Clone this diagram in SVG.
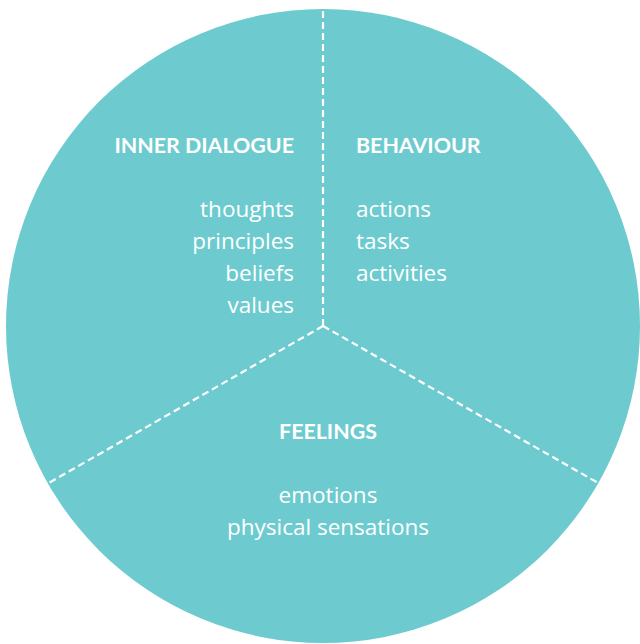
<svg xmlns="http://www.w3.org/2000/svg" width="640" height="644" viewBox="0 0 640 644">
<style>
.bg{fill:#6dcbd0}
.div{stroke:#ffffff;stroke-width:2.2;stroke-dasharray:7 4;fill:none}
.h{font-family:"Lato","Noto Sans",sans-serif;font-weight:700;font-size:21.4px;fill:#ffffff}
.t{font-family:"Open Sans","Noto Sans",sans-serif;font-weight:400;font-size:22.5px;fill:#ffffff}
</style>
<rect width="640" height="644" fill="#ffffff"/>
<circle class="bg" cx="323" cy="326" r="317"/>
<g id="connectors">
<line class="div" x1="323" y1="326" x2="323" y2="9"/>
<line class="div" x1="323" y1="326" x2="47" y2="484"/>
<line class="div" x1="323" y1="326" x2="600" y2="484"/>
</g>
<g id="inner-dialogue" text-anchor="end">
<text class="h" x="294" y="153">INNER DIALOGUE</text>
<text class="t" x="294" y="217">thoughts</text>
<text class="t" x="294" y="249">principles</text>
<text class="t" x="294" y="281">beliefs</text>
<text class="t" x="294" y="313">values</text>
</g>
<g id="behaviour">
<text class="h" x="356" y="153">BEHAVIOUR</text>
<text class="t" x="356" y="217">actions</text>
<text class="t" x="356" y="249">tasks</text>
<text class="t" x="356" y="281">activities</text>
</g>
<g id="feelings" text-anchor="middle">
<text class="h" x="328" y="439">FEELINGS</text>
<text class="t" x="328" y="503">emotions</text>
<text class="t" x="328" y="535">physical sensations</text>
</g>
</svg>
